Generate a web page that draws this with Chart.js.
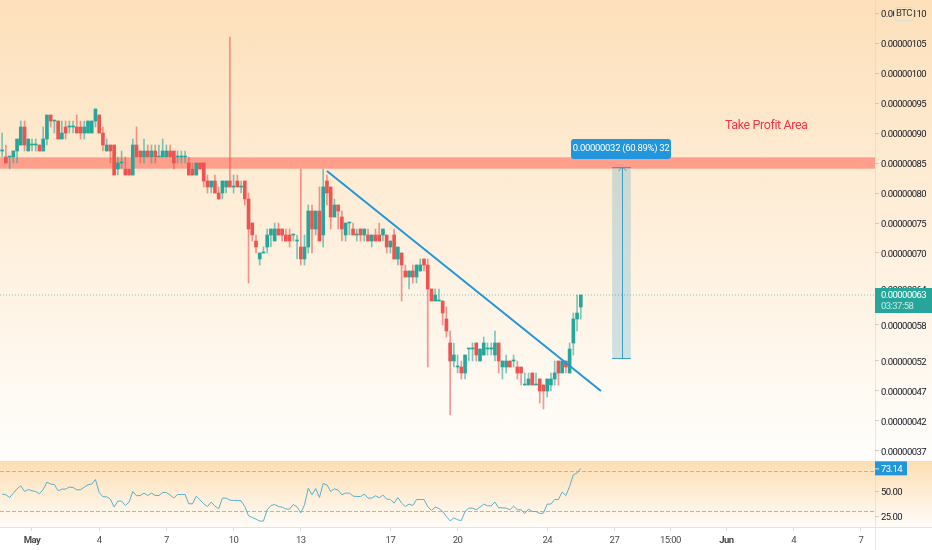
<!DOCTYPE html>
<html>
<head>
<meta charset="utf-8">
<script src="https://cdn.jsdelivr.net/npm/chart.js@4"></script>
<style>
  html, body { margin: 0; padding: 0; width: 932px; height: 550px; overflow: hidden; background: #fff; }
  #pricePane { position: absolute; left: 0; top: 0; width: 932px; height: 461px; background: linear-gradient(#fde0ba, #fffefc); }
  #rsiPane { position: absolute; left: 0; top: 461px; width: 932px; height: 66px; background: linear-gradient(#fddeb2, #fffcf8); }
  #scaleLine { position: absolute; left: 875px; top: 0; width: 1px; height: 550px; background: rgba(225, 215, 195, 0.6); }
  #priceChart { position: absolute; left: 0; top: 0; }
  #rsiChart { position: absolute; left: 0; top: 461px; }
</style>
</head>
<body>
<div id="pricePane"></div>
<div id="rsiPane"></div>
<div id="scaleLine"></div>
<canvas id="priceChart" width="932" height="461"></canvas>
<canvas id="rsiChart" width="932" height="89"></canvas>
<script>
// Prices are in units of 0.00000001 BTC, one candle every 4 hours
const opens = [
  87,86,86,86,87,88,91,87,88,88, 88,87,89,93,92,92,89,91,91,91,
  91,91,90,90,90,92,93,90,87,88, 88,84,85,84,84,83,88,87,86,87,
  86,87,86,86,86,87,87,86,86,86, 85,84,83,85,85,82,81,82,80,80,
  81,82,81,82,81,82,79,75,72,69, 70,71,73,72,74,74,73,73,73,72,
  71,69,71,77,74,77,73,82,81,76, 78,76,73,75,74,73,74,73,73,72,
  73,73,73,73,71,73,69,70,67,66, 67,66,67,69,68,64,62,62,62,59,
  55,52,51,51,50,54,54,55,52,53, 54,54,53,55,51,51,52,52,51,51,
  48,48,50,48,49,48,47,48,49,52, 50,52,50,55,59,61
];
const highs = [
  90,88,86,87,89,92,92,89,89,89, 88,91,93,93,92,92,92,92,92,92,
  93,92,92,92,92,94,93,91,89,88, 88,86,87,86,84,89,91,87,89,88,
  88,88,88,89,88,88,87,87,87,87, 86,85,85,85,85,83,82,83,81,82,
  82,106,83,83,82,82,80,75,73,70, 71,74,74,75,75,74,74,74,73,73,
  84,73,78,78,77,81,84,83,81,79, 78,77,75,75,75,74,74,74,74,73,
  74,75,74,73,72,74,71,70,68,67, 68,68,69,69,69,64,64,64,62,61,
  57,55,53,52,53,54,55,55,54,56, 55,55,57,55,52,53,52,53,52,51,
  50,50,50,50,49,48,49,50,52,52, 52,52,55,60,63,63
];
const lows = [
  86,85,84,85,85,88,87,87,87,87, 87,87,88,91,90,89,89,89,90,90,
  90,89,89,90,90,91,90,87,87,85, 83,83,84,83,83,83,86,85,85,86,
  85,85,86,86,86,86,84,85,85,85, 83,83,83,84,81,80,80,80,79,79,
  80,81,80,81,80,78,65,72,70,68, 70,70,71,72,73,72,72,71,72,69,
  68,68,70,70,73,72,71,78,74,76, 74,72,72,73,73,72,72,72,72,71,
  72,72,72,70,70,69,68,62,66,64, 65,65,67,67,51,62,62,62,58,56,
  43,51,50,49,49,52,52,52,52,53, 53,53,52,50,49,50,51,51,49,48,
  48,48,48,48,45,44,46,47,48,48, 50,50,50,53,57,59
];
const closes = [
  87,85,86,87,89,91,88,89,88,88, 87,89,93,92,92,89,90,90,91,91,
  90,90,91,92,92,94,90,88,88,87, 83,85,85,83,83,88,86,86,87,86,
  87,86,86,87,87,86,85,86,86,86, 83,83,85,84,82,81,82,80,79,82,
  82,81,81,81,81,79,74,73,71,70, 70,73,74,74,73,73,72,72,73,72,
  69,71,77,74,77,72,81,80,76,78, 77,74,75,75,73,73,73,74,72,73,
  72,72,74,71,72,69,71,68,66,67, 66,68,68,68,64,62,63,62,60,57,
  52,53,51,50,53,54,54,53,54,55, 54,54,55,52,52,52,51,52,50,50,
  48,49,48,48,47,47,49,49,50,50, 52,51,54,59,60,63
];
const rsiValues = [
  47.4,46.7,44,48.4,52.7,55.7,50,52,50.7,50, 47.7,52,59.4,57.4,57,50.7,52.4,52.4,54.4,54,
  51.7,51.7,54.4,56.7,57.4,62,49,44.7,44.7,42.4, 34.4,40.4,40.4,36,39.4,50,45.7,46,48.4,46,
  48.4,46,46,49,49,46.4,43.4,47,47,47, 37.7,37.7,45.4,41.7,37.7,35,39.4,35.4,32.7,43.4,
  43.4,41.4,41,41,40.7,35,25.7,24,22.4,20.4, 20.4,31.7,36,37,35,34.4,32.4,32.4,37,34.4,
  28.7,36.7,53.4,46.7,53,44,58,56.7,50,52.7, 51.4,46.7,48.4,48.4,45.4,45,45,47.4,43.4,43.4,
  45.7,43.7,46.4,42.4,42,38.4,44,38.4,35,37.4, 36,42,42,42,35,31,34.4,33,30,25,
  20.7,23.7,21.7,21,30,33.4,33.4,31.7,34.4,37.4, 35.7,35.7,39.4,33.7,33.7,33.4,31.7,35.4,31.7,31.7,
  28,32.4,30,30,28,28.4,37.4,37.4,42,42, 49.4,46,55,66.7,68.4,73.14
];

const priceTicks = [110,105,100,95,90,85,80,75,70,64,58,52,47,42,37];
const rsiTicks = [25,50];
const timeTickPositions = [8,26,44,62,80,104,122,146,164,179,194,212,230];
const timeTickLabels = ['May','4','7','10','13','17','20','24','27','15:00','Jun','4','7'];

// Drawings on the chart, in candle index / price units
const bandLow = 84;
const bandHigh = 86;
const trendX = [87,160.4];
const trendY = [83.67,47];
const measureX = [163.4,168.4];
const measureY = [52.5,84.33];
const measureText = '0.00000032 (60.89%) 32';
const lastPrice = 63;
const lastPriceText = '0.00000063';
const countdownText = '03:37:58';
const lastRsi = 73.14;
const rsiUpper = 70;
const rsiLower = 30;

const xMin = -0.57;
const xMax = 233.8;
const candleIndex = opens.map((_, i) => i);

const UP = '#26a69a';
const FONT = 'Roboto, sans-serif';
const candleColor = (i, alpha) => {
  const rgb = closes[i] >= opens[i] ? '38,166,154' : '239,83,80';
  return `rgba(${rgb},${alpha})`;
};

// --- Fix the axis strip sizes so both panes line up ---
const fitY = (scale) => {
  scale.width = 57;
  scale.paddingTop = 0;
  scale.paddingBottom = 0;
};
const fitX = (scale) => {
  scale.height = 23;
  scale.paddingLeft = 0;
  scale.paddingRight = 0;
};

// the reference labels are narrow, Roboto needs squeezing to fit
const narrowTextPlugin = {
  id: 'narrowText',
  beforeDraw(chart) {
    chart.ctx.letterSpacing = '-0.55px';
  }
};

// --- Band behind the candles ---
const bandPlugin = {
  id: 'band',
  beforeDatasetsDraw(chart) {
    const { ctx, chartArea, scales: { y } } = chart;
    const top = y.getPixelForValue(bandHigh);
    const bottom = y.getPixelForValue(bandLow);
    ctx.save();
    ctx.fillStyle = '#ff9e8b';
    ctx.fillRect(chartArea.left, top, chartArea.width, bottom - top);
    ctx.fillStyle = '#ffb5a4';
    ctx.fillRect(chartArea.left, top, chartArea.width, 1);
    ctx.fillRect(chartArea.left, bottom - 1, chartArea.width, 1);
    ctx.restore();
  }
};

// --- Measure tool, text note and price labels ---
const drawingsPlugin = {
  id: 'drawings',
  afterDraw(chart) {
    const { ctx, scales: { x, y } } = chart;
    const left = x.getPixelForValue(measureX[0]);
    const right = x.getPixelForValue(measureX[1]);
    const top = y.getPixelForValue(measureY[1]);
    const bottom = y.getPixelForValue(measureY[0]);
    const mid = Math.round((left + right) / 2) + 0.5;
    ctx.save();
    ctx.fillStyle = 'rgba(20,140,190,0.2)';
    ctx.fillRect(left, top, right - left, bottom - top);
    ctx.strokeStyle = '#3d9fc4';
    ctx.lineWidth = 1;
    ctx.beginPath();
    ctx.moveTo(left, Math.round(top) + 0.5);
    ctx.lineTo(right, Math.round(top) + 0.5);
    ctx.moveTo(left, Math.round(bottom) + 0.5);
    ctx.lineTo(right, Math.round(bottom) + 0.5);
    ctx.moveTo(mid, top);
    ctx.lineTo(mid, bottom);
    ctx.moveTo(mid - 4, top + 4);
    ctx.lineTo(mid, top);
    ctx.lineTo(mid + 4, top + 4);
    ctx.stroke();

    ctx.fillStyle = '#2196dd';
    ctx.beginPath();
    ctx.roundRect(571, top - 28, 100, 20, 3);
    ctx.fill();
    ctx.fillStyle = '#fff';
    ctx.font = '9.5px ' + FONT;
    ctx.letterSpacing = '-0.3px';
    ctx.textAlign = 'center';
    ctx.textBaseline = 'middle';
    ctx.fillText(measureText, 621, top - 18);

    ctx.fillStyle = '#f23645';
    ctx.font = '12.5px ' + FONT;
    ctx.letterSpacing = '-0.4px';
    ctx.textAlign = 'left';
    ctx.fillText('Take Profit Area', 725, 126);

    // current price label covers the 64 tick
    const py = y.getPixelForValue(lastPrice);
    ctx.fillStyle = UP;
    ctx.fillRect(875, py - 7, 57, 25);
    ctx.fillStyle = '#fff';
    ctx.font = '9.5px ' + FONT;
    ctx.letterSpacing = '-0.55px';
    ctx.fillText(lastPriceText, 881, py + 1);
    ctx.fillStyle = 'rgba(255,255,255,0.75)';
    ctx.fillText(countdownText, 881, py + 12);

    ctx.fillStyle = '#fde3c0';
    ctx.strokeStyle = '#d9dcd2';
    ctx.beginPath();
    ctx.roundRect(894.5, 7.5, 19, 13, 3);
    ctx.fill();
    ctx.stroke();
    ctx.fillStyle = '#333';
    ctx.font = '9.5px ' + FONT;
    ctx.textAlign = 'center';
    ctx.fillText('BTC', 904, 14);
    ctx.restore();
  }
};

const rsiLabelPlugin = {
  id: 'rsiLabel',
  afterDraw(chart) {
    const { ctx, scales: { y } } = chart;
    const py = y.getPixelForValue(lastRsi);
    ctx.save();
    ctx.fillStyle = '#2196dd';
    ctx.fillRect(875, py - 7, 32, 14);
    ctx.strokeStyle = 'rgba(255,255,255,0.8)';
    ctx.beginPath();
    ctx.moveTo(875, py + 0.5);
    ctx.lineTo(879, py + 0.5);
    ctx.stroke();
    ctx.fillStyle = '#fff';
    ctx.font = '9.5px ' + FONT;
    ctx.textBaseline = 'middle';
    ctx.fillText(lastRsi.toFixed(2), 881, py + 1);
    // pane bottom border
    ctx.fillStyle = '#e3e3e3';
    ctx.fillRect(0, 66, 932, 1);
    ctx.restore();
  }
};

// --- Price pane ---
new Chart(document.getElementById('priceChart'), {
  type: 'bar',
  data: {
    datasets: [
      {
        // wicks
        data: candleIndex.map(i => ({ x: i, y: [lows[i], highs[i]] })),
        backgroundColor: candleIndex.map(i => candleColor(i, 0.6)),
        barThickness: 1,
        grouped: false,
        order: 3
      },
      {
        // bodies
        data: candleIndex.map(i => ({ x: i, y: [opens[i], closes[i]] })),
        backgroundColor: candleIndex.map(i => candleColor(i, 1)),
        barThickness: 3,
        minBarLength: 1,
        grouped: false,
        order: 2
      },
      {
        // last price line
        type: 'line',
        data: [{ x: xMin, y: lastPrice }, { x: xMax, y: lastPrice }],
        borderColor: 'rgba(38,166,154,0.6)',
        borderWidth: 1,
        borderDash: [1, 2],
        pointRadius: 0,
        order: 4
      },
      {
        // trend line
        type: 'line',
        data: trendX.map((x, i) => ({ x: x, y: trendY[i] })),
        borderColor: '#2196d8',
        borderWidth: 2,
        pointRadius: 0,
        order: 1
      }
    ]
  },
  options: {
    responsive: false,
    animation: false,
    layout: { padding: 0 },
    plugins: { legend: { display: false }, tooltip: { enabled: false } },
    scales: {
      x: { type: 'linear', min: xMin, max: xMax, offset: false, display: false },
      y: {
        position: 'right',
        min: 35.33,
        max: 112.17,
        afterFit: fitY,
        afterBuildTicks: (axis) => { axis.ticks = priceTicks.map(v => ({ value: v })); },
        grid: { drawOnChartArea: false, tickLength: 4, tickColor: 'rgba(190,180,160,0.6)' },
        border: { display: false },
        ticks: {
          autoSkip: false,
          padding: 2,
          labelOffset: 1.5,
          color: '#131722',
          font: { family: FONT, size: 9.5 },
          callback: (v) => (v / 1e8).toFixed(8)
        }
      }
    }
  },
  plugins: [narrowTextPlugin, bandPlugin, drawingsPlugin]
});

// --- RSI pane and time axis ---
new Chart(document.getElementById('rsiChart'), {
  type: 'line',
  data: {
    datasets: [
      {
        data: candleIndex.map(i => ({ x: i, y: rsiValues[i] })),
        borderColor: '#58b1d0',
        borderWidth: 1,
        pointRadius: 0
      },
      {
        data: [{ x: xMin, y: rsiUpper }, { x: xMax, y: rsiUpper }],
        borderColor: '#ffa64d',
        borderWidth: 1,
        borderDash: [4, 2],
        pointRadius: 0
      },
      {
        data: [{ x: xMin, y: rsiLower }, { x: xMax, y: rsiLower }],
        borderColor: '#ffa64d',
        borderWidth: 1,
        borderDash: [4, 2],
        pointRadius: 0
      }
    ]
  },
  options: {
    responsive: false,
    animation: false,
    layout: { padding: 0 },
    plugins: { legend: { display: false }, tooltip: { enabled: false } },
    scales: {
      x: {
        type: 'linear',
        min: xMin,
        max: xMax,
        afterFit: fitX,
        afterBuildTicks: (axis) => { axis.ticks = timeTickPositions.map(v => ({ value: v })); },
        grid: { drawOnChartArea: false, tickLength: 4, tickColor: '#dddddd' },
        border: { display: false },
        ticks: {
          autoSkip: false,
          maxRotation: 0,
          padding: 4,
          color: '#4a4a4a',
          font: (c) => ({ family: FONT, size: 9.5, weight: c.index === 0 || c.index === 10 ? 'bold' : 'normal' }),
          callback: (v, i) => timeTickLabels[i]
        }
      },
      y: {
        position: 'right',
        min: 14.5,
        max: 80.5,
        afterFit: fitY,
        afterBuildTicks: (axis) => { axis.ticks = rsiTicks.map(v => ({ value: v })); },
        grid: { drawOnChartArea: false, tickLength: 4, tickColor: 'rgba(190,180,160,0.6)' },
        border: { display: false },
        ticks: {
          autoSkip: false,
          padding: 2,
          labelOffset: 1.5,
          color: '#131722',
          font: { family: FONT, size: 9.5 },
          callback: (v) => v.toFixed(2)
        }
      }
    }
  },
  plugins: [narrowTextPlugin, rsiLabelPlugin]
});
</script>
</body>
</html>
